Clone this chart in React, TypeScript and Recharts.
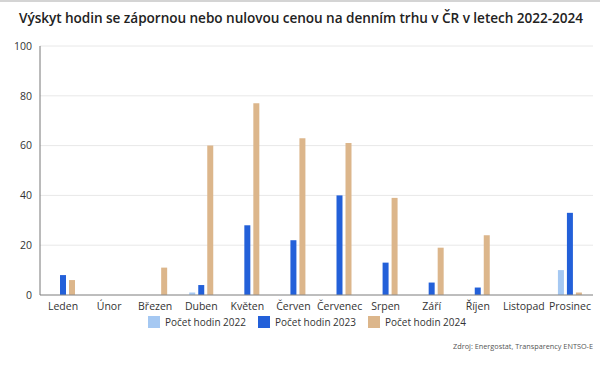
import React from 'react';
import { BarChart, Bar, XAxis, YAxis, CartesianGrid } from 'recharts';

const months = ['Leden', 'Únor', 'Březen', 'Duben', 'Květen', 'Červen', 'Červenec', 'Srpen', 'Září', 'Říjen', 'Listopad', 'Prosinec'];
const hours2022 = [0, 0, 0, 1, 0, 0, 0, 0, 0, 0, 0, 10];
const hours2023 = [8, 0, 0, 4, 28, 22, 40, 13, 5, 3, 0, 33];
const hours2024 = [6, 0, 11, 60, 77, 63, 61, 39, 19, 24, 0, 1];
const yTicks = [0, 20, 40, 60, 80, 100];

const seriesNames = ['Počet hodin 2022', 'Počet hodin 2023', 'Počet hodin 2024'];
const colors = ['#a5c8f2', '#2360d9', '#dcb68b'];

const data = months.map((m, i) => ({
  month: m,
  y2022: hours2022[i],
  y2023: hours2023[i],
  y2024: hours2024[i],
}));

const font = "'Open Sans', 'Noto Sans', sans-serif";

export default function App() {
  return (
    <div style={{ position: 'absolute', left: 0, top: 0, width: 600, height: 366, background: '#fff', fontFamily: font, overflow: 'hidden' }}>
      <div style={{ position: 'absolute', left: 0, top: 0, width: 600, height: 2, background: '#d4d4d4' }} />
      <div style={{ position: 'absolute', left: 19, top: 8, fontSize: 13.6, fontWeight: 600, color: '#222', whiteSpace: 'nowrap', letterSpacing: -0.05 }}>
        Výskyt hodin se zápornou nebo nulovou cenou na denním trhu v ČR v letech 2022-2024
      </div>
      <div style={{ position: 'absolute', left: 0, top: 0 }}>
        <BarChart
          width={600}
          height={330}
          data={data}
          margin={{ top: 46, right: 7, left: 0, bottom: 5 }}
          barSize={6}
          barGap={3}
        >
          <CartesianGrid horizontal vertical={false} stroke="#e8e8e8" />
          <XAxis
            dataKey="month"
            interval={0}
            tickLine={false}
            axisLine={{ stroke: '#888' }}
            height={30}
            tick={{ fontSize: 10.5, fill: '#333', fontFamily: font }}
          />
          <YAxis
            domain={[0, 100]}
            ticks={yTicks}
            width={40}
            tickLine={false}
            axisLine={{ stroke: '#777' }}
            tick={{ fontSize: 10.5, fill: '#333', fontFamily: font }}
          />
          <Bar dataKey="y2022" fill={colors[0]} isAnimationActive={false} />
          <Bar dataKey="y2023" fill={colors[1]} isAnimationActive={false} />
          <Bar dataKey="y2024" fill={colors[2]} isAnimationActive={false} />
        </BarChart>
      </div>
      <div style={{ position: 'absolute', left: 148, top: 315, display: 'flex', alignItems: 'center', fontSize: 10, color: '#333' }}>
        {seriesNames.map((n, i) => (
          <div key={n} style={{ display: 'flex', alignItems: 'center', width: 110 }}>
            <div style={{ width: 12, height: 12, background: colors[i], marginRight: 5 }} />
            <span style={{ whiteSpace: 'nowrap' }}>{n}</span>
          </div>
        ))}
      </div>
      <div style={{ position: 'absolute', right: 7, top: 341, fontSize: 7.3, color: '#555', whiteSpace: 'nowrap' }}>
        Zdroj: Energostat, Transparency ENTSO-E
      </div>
    </div>
  );
}
